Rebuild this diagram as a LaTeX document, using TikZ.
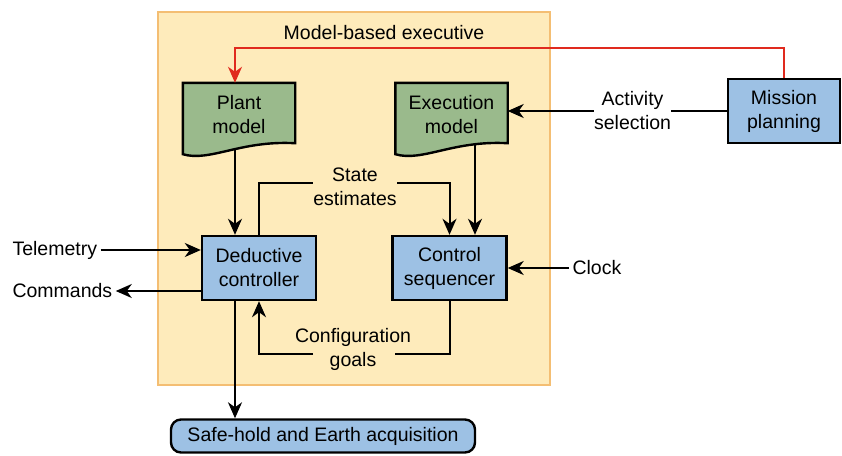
\documentclass[tikz,border=0pt]{standalone}
\usepackage{fontspec}
\setmainfont{Liberation Sans}
\usetikzlibrary{arrows.meta,backgrounds}

\definecolor{boxblue}{RGB}{157,193,228}
\definecolor{docgreen}{RGB}{154,186,140}
\definecolor{execyellow}{RGB}{254,235,187}
\definecolor{execorange}{RGB}{244,190,115}
\definecolor{planred}{RGB}{224,42,30}

\tikzset{
  blk/.style = {draw, line width=2.4pt, fill=boxblue, align=center, minimum width=114pt, minimum height=64pt},
  docnode/.style = {align=center, minimum width=112pt, minimum height=64pt},
  lbl/.style = {align=center, inner sep=0pt},
  ln/.style = {line width=2pt},
  arr/.style = {ln, -{Stealth[length=16pt,width=14pt,inset=5pt]}},
}

% document shape with a wavy bottom edge, drawn round a named node
\newcommand\docshape[1]{%
  \filldraw[fill=docgreen, line width=2.4pt]
    (#1.north west) -- ([yshift=-7pt]#1.south west)
    .. controls ([xshift=27pt,yshift=-15pt]#1.south west) and ([xshift=-55pt,yshift=7pt]#1.south east)
    .. ([yshift=4pt]#1.south east) -- (#1.north east) -- cycle;}

\begin{document}
\begin{tikzpicture}[x=1pt, y=-1pt, font=\fontsize{19.5}{24}\selectfont]
  \useasboundingbox (0,0) rectangle (842,455);
  \begin{scope}[on background layer]
    \filldraw [fill=execyellow, draw=execorange, line width=2.5pt] (158,12) rectangle (550,385);
  \end{scope}

  \node (title) at (384,33) {Model-based executive};
  \node [docnode] (plant) at (239,115) {Plant\\model};
  \node [docnode] (execm) at (451.5,115) {Execution\\model};
  \begin{scope}[on background layer]
    \docshape{plant}
    \docshape{execm}
  \end{scope}

  \node [blk, minimum width=112pt] (mission) at (784,111) {Mission\\planning};
  \node [blk] (ded) at (259,268) {Deductive\\controller};
  \node [blk] (seq) at (449.5,268) {Control\\sequencer};
  \node [blk, rounded corners=10pt, minimum width=304pt, minimum height=33pt] (safe) at (323,436) {Safe-hold and Earth acquisition};

  \node [anchor=west] (telem) at (9,250) {Telemetry};
  \node [anchor=west] (cmd) at (9,291) {Commands};
  \node [anchor=west] (clock) at (569,268) {Clock};

  \coordinate (redY) at (235,48);
  \coordinate (stateY) at (355,183);
  \coordinate (goalY) at (354,354);

  \draw [arr, draw=planred, line width=1.7pt] (mission.north) |- (redY) -- ([xshift=-4pt]plant.north);
  \draw [arr] (mission.west) -- node [lbl, fill=white, pos=0.43] (actsel) {Activity\\selection} (mission.west -| execm.east);
  \draw [arr] ([xshift=-4pt,yshift=-3pt]plant.south) -- ([xshift=-24pt]ded.north);
  \draw [arr] ([xshift=23.5pt,yshift=2pt]execm.south) -- ([xshift=25.5pt]seq.north);
  \draw [arr] (ded.north) |- (stateY) -| (seq.north);
  \draw [ln] (seq.south) |- ([xshift=41pt]goalY);
  \draw [arr] ([xshift=-41pt]goalY) -| (ded.south);
  \draw [arr] (telem.east) -- (ded.west |- telem.east);
  \draw [arr] (ded.west |- cmd.east) -- (cmd.east);
  \draw [arr] (clock.west) -- (seq.east |- clock.west);
  \draw [arr] ([xshift=-24pt]ded.south) -- ([xshift=-24pt]ded.south |- safe.north);

  \node [lbl, fill=execyellow] (state) at (355,186.5) {State\\estimates};
  \node [lbl] (goals) at (353,349) {Configuration\\goals};
\end{tikzpicture}
\end{document}
